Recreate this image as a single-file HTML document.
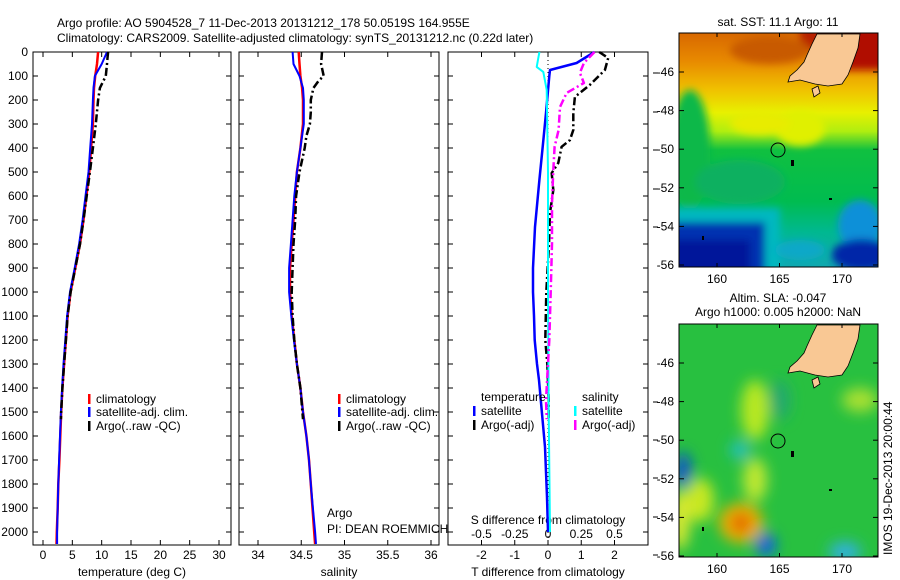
<!DOCTYPE html>
<html><head><meta charset="utf-8"><style>
html,body{margin:0;padding:0;background:#fff;}
svg{display:block;font-family:"Liberation Sans",sans-serif;font-size:12px;}
</style></head><body>
<svg id="fig" width="900" height="580" viewBox="0 0 900 580">
<defs>
<filter id="blur4" x="-20%" y="-20%" width="140%" height="140%"><feGaussianBlur stdDeviation="4"/></filter>
<filter id="blur7" x="-30%" y="-30%" width="160%" height="160%"><feGaussianBlur stdDeviation="7"/></filter>
<clipPath id="m1clip"><rect x="679" y="33" width="199" height="234"/></clipPath>
<clipPath id="m2clip"><rect x="679" y="324" width="199" height="233"/></clipPath>
<linearGradient id="sstGrad" x1="0" y1="0" x2="0" y2="1">
<stop offset="0" stop-color="#d86800"/><stop offset="0.12" stop-color="#e88a00"/><stop offset="0.24" stop-color="#f0c000"/>
<stop offset="0.34" stop-color="#e8f000"/><stop offset="0.42" stop-color="#b0ee10"/><stop offset="0.50" stop-color="#10c040"/>
<stop offset="0.72" stop-color="#00bc50"/><stop offset="0.85" stop-color="#00b890"/><stop offset="1" stop-color="#10a8b0"/>
</linearGradient>
</defs>
<text x="57" y="27">Argo profile: AO 5904528_7 11-Dec-2013 20131212_178 50.0519S 164.955E</text>
<text x="57" y="42">Climatology: CARS2009. Satellite-adjusted climatology: synTS_20131212.nc (0.22d later)</text>
<g id="p1"></g>
<g id="p2"></g>
<g id="p3"></g>
<g id="m1">
<text x="778" y="26" text-anchor="middle">sat. SST: 11.1 Argo: 11</text>
<g clip-path="url(#m1clip)">
<rect x="679" y="33" width="199" height="234" fill="url(#sstGrad)"/>
<g filter="url(#blur4)">
<rect x="840" y="25" width="50" height="45" fill="#b01000"/>
<rect x="800" y="25" width="30" height="25" fill="#b82000"/>
<ellipse cx="770" cy="50" rx="40" ry="14" fill="#c85a00"/>
<ellipse cx="690" cy="150" rx="20" ry="60" fill="#10b848"/>
<ellipse cx="740" cy="182" rx="45" ry="22" fill="#10b060"/>
<ellipse cx="800" cy="128" rx="25" ry="18" fill="#e0f000"/>
<ellipse cx="760" cy="123" rx="30" ry="12" fill="#e8ec00"/>
<rect x="670" y="208" width="110" height="70" fill="#00b8c0"/>
<rect x="670" y="222" width="95" height="60" fill="#0030b0"/>
<rect x="670" y="240" width="80" height="40" fill="#00189a"/>
<ellipse cx="860" cy="225" rx="22" ry="25" fill="#1090d8"/>
<ellipse cx="862" cy="255" rx="30" ry="16" fill="#0028a8"/>
<ellipse cx="800" cy="250" rx="25" ry="10" fill="#10a8c8"/>
</g>
<polygon points="817,34 860,34 858,48 853,62 848,75 842,84 828,86 815,84 800,80 788,82 790,76 797,70 804,62 807,55 812,44" fill="#f9c894" stroke="#000" stroke-width="0.8"/>
<polygon points="812,89 818,86 820,93 814,97" fill="#f9c894" stroke="#000" stroke-width="0.8"/>
<circle cx="778" cy="150" r="7" fill="none" stroke="#000" stroke-width="1"/>
<rect x="791" y="160" width="3" height="6" fill="#000"/><rect x="829" y="198" width="3" height="2" fill="#000"/><rect x="702" y="236" width="2" height="4" fill="#000"/>
</g>
<rect x="679" y="33" width="199" height="234" fill="none" stroke="#000" stroke-width="1"/>
</g>
<g id="m2">
<text x="778" y="302" text-anchor="middle">Altim. SLA: -0.047</text>
<text x="778" y="316" text-anchor="middle">Argo h1000: 0.005 h2000: NaN</text>
<g clip-path="url(#m2clip)">
<rect x="679" y="324" width="199" height="233" fill="#28c040"/>
<g filter="url(#blur7)">
<ellipse cx="755" cy="410" rx="14" ry="30" fill="#b8e820"/>
<ellipse cx="700" cy="500" rx="14" ry="22" fill="#c8e820"/>
<ellipse cx="755" cy="480" rx="12" ry="22" fill="#c0e830"/>
<ellipse cx="860" cy="400" rx="18" ry="12" fill="#a8e030"/>
<ellipse cx="780" cy="400" rx="10" ry="20" fill="#20a870"/>
<ellipse cx="740" cy="450" rx="10" ry="9" fill="#20c0c0"/>
<ellipse cx="683" cy="470" rx="8" ry="18" fill="#1050d0"/>
<ellipse cx="741" cy="523" rx="22" ry="20" fill="#f0b000"/>
<ellipse cx="741" cy="523" rx="10" ry="10" fill="#e06000"/>
<ellipse cx="766" cy="545" rx="10" ry="12" fill="#1060e0"/>
<ellipse cx="845" cy="552" rx="16" ry="10" fill="#30b0e0"/>
<ellipse cx="680" cy="520" rx="10" ry="30" fill="#d8e830"/>
</g>
<polygon points="817,325 860,325 858,339 853,353 848,366 842,375 828,377 815,375 800,371 788,373 790,367 797,361 804,353 807,346 812,335" fill="#f9c894" stroke="#000" stroke-width="0.8"/>
<polygon points="812,380 818,377 820,384 814,388" fill="#f9c894" stroke="#000" stroke-width="0.8"/>
<circle cx="778" cy="441" r="7" fill="none" stroke="#000" stroke-width="1"/>
<rect x="791" y="451" width="3" height="6" fill="#000"/><rect x="829" y="489" width="3" height="2" fill="#000"/><rect x="702" y="527" width="2" height="4" fill="#000"/>
</g>
<rect x="679" y="324" width="199" height="233" fill="none" stroke="#000" stroke-width="1"/>
<text transform="translate(892,555) rotate(-90)">IMOS 19-Dec-2013 20:00:44</text>
</g>
</svg>
<script>
// ---- data ----
const depths = [0,50,100,150,200,300,400,500,600,700,800,900,1000,1100,1200,1300,1400,1500,1600,1700,1800,1900,2000,2050];
const climT = [9.4,9.2,8.9,8.7,8.6,8.5,8.2,7.9,7.4,6.9,6.3,5.5,4.7,4.2,3.9,3.6,3.3,3.1,2.95,2.8,2.6,2.5,2.35,2.3];
const satT = [10.9,10.0,8.85,8.6,8.5,8.35,8.05,7.75,7.25,6.75,6.15,5.4,4.6,4.1,3.8,3.5,3.25,3.05,2.9,2.75,2.6,2.5,2.4,2.4];
const argoTDepths = [0,25,50,100,150,200,300,400,500,600,700,800,900,1000,1100,1200,1300,1400,1500,1530];
const argoT = [11.1,11.0,10.9,10.7,9.7,9.4,9.0,8.5,8.0,7.45,6.9,6.3,5.5,4.7,4.2,3.9,3.6,3.3,3.1,3.05];
const climS = [34.47,34.48,34.49,34.51,34.52,34.52,34.49,34.45,34.43,34.41,34.39,34.37,34.37,34.39,34.42,34.45,34.49,34.52,34.56,34.59,34.61,34.63,34.65,34.66];
const satS = [34.40,34.41,34.48,34.52,34.53,34.53,34.49,34.45,34.42,34.40,34.38,34.36,34.36,34.385,34.415,34.45,34.49,34.52,34.56,34.59,34.61,34.635,34.66,34.67];
const argoSDepths = [0,50,100,120,150,200,250,300,350,400,500,600,700,800,900,1000,1100,1200,1300,1400,1530];
const argoS = [34.74,34.73,34.76,34.70,34.64,34.61,34.61,34.60,34.56,34.54,34.48,34.44,34.43,34.41,34.40,34.39,34.40,34.42,34.45,34.49,34.52];
const satDTDepths = [0,46,75,100,254,395,533,729,900,1000,1100,1200,1300,1367,1646,1854,2000];
const satDT = [1.4,0.86,0.06,0.04,-0.06,-0.16,-0.26,-0.39,-0.45,-0.45,-0.42,-0.40,-0.33,-0.27,-0.09,-0.03,0];
const argoDTDepths = [0,25,75,137,187,254,325,367,395,462,504,575,670,800,1000,1200,1300,1450,1530];
const argoDT = [1.54,1.81,1.71,1.26,0.81,0.76,0.76,0.66,0.41,0.31,0.11,0.16,0.06,0.03,-0.05,-0.08,-0.02,0.02,0.02];
const satDSDepths = [0,62,83,158,500,1000,1500,2000];
const satDS = [-0.065,-0.085,-0.035,-0.01,0,0,0.005,0.015];
const argoDSDepths = [0,46,87,129,171,229,325,395,492,629,800,1000,1200,1450,1530];
const argoDS = [0.35,0.27,0.24,0.27,0.14,0.09,0.08,0.05,0.04,0.03,0.03,0.02,0.01,-0.015,-0.01];
const depthTicks = [0,100,200,300,400,500,600,700,800,900,1000,1100,1200,1300,1400,1500,1600,1700,1800,1900,2000];
const tempTicks = [0,5,10,15,20,25,30];
const salTicks = [34,34.5,35,35.5,36];
const salTickLabels = ['34','34.5','35','35.5','36'];
const dTTicks = [-2,-1,0,1,2];
const dSTicks = [-0.5,-0.25,0,0.25,0.5];
const dSTickLabels = ['-0.5','-0.25','0','0.25','0.5'];
const latTicks = [-46,-48,-50,-52,-54,-56];
const lonTicks = [160,165,170];

// ---- scales ----
const TOP=52, BOT=545;
const yD = d => TOP + d*0.24;
const xT = t => 43 + t*5.867;
const xS = s => 258 + (s-34)*86.5;
const xDT = v => 548 + v*33.25;
const xDS = v => 548 + v*133;
const NS='http://www.w3.org/2000/svg';
function mk(tag, attrs, parent){const e=document.createElementNS(NS,tag);for(const k in attrs)e.setAttribute(k,attrs[k]);parent.appendChild(e);return e;}
function txt(parent,x,y,s,anchor){const t=mk('text',{x:x,y:y,'text-anchor':anchor||'start'},parent);t.textContent=s;return t;}

function frame(g,L,R,name){
  const r=mk('rect',{x:L,y:TOP,width:R-L,height:BOT-TOP,fill:'#fff',stroke:'#000','stroke-width':1},g);
  
  
  depthTicks.forEach(d=>{
    mk('line',{x1:L,x2:L+5,y1:yD(d),y2:yD(d),stroke:'#000'},g);
    mk('line',{x1:R,x2:R-5,y1:yD(d),y2:yD(d),stroke:'#000'},g);
  });
}
function xticks(g,vals,fx,labels,ly){
  vals.forEach((v,i)=>{
    const x=fx(v);
    mk('line',{x1:x,x2:x,y1:TOP,y2:TOP+5,stroke:'#000'},g);
    mk('line',{x1:x,x2:x,y1:BOT,y2:BOT-5,stroke:'#000'},g);
    const t=txt(g,x,ly,labels?labels[i]:String(v),'middle');
    
    
  });
}
function line(g,xs,ds,fx,color,w,dash,name){
  const pts=xs.map((v,i)=>fx(v).toFixed(1)+','+yD(ds[i]).toFixed(1)).join(' ');
  const p=mk('polyline',{points:pts,fill:'none',stroke:color,'stroke-width':w,'stroke-linejoin':'round'},g);
  if(dash)p.setAttribute('stroke-dasharray',dash);
  
  
}
function legend(g,x,y,color,label,name){
  mk('rect',{x:x,y:y-9,width:2.5,height:10,fill:color},g);
  const t=txt(g,x+8,y,label);
  
  
}
const DASH='8,3,2,3';

// panel 1
const p1=document.getElementById('p1');
frame(p1,33,231,'temperature-panel');
depthTicks.forEach(d=>{const t=txt(p1,28,yD(d)+4,String(d),'end');
  
  });
xticks(p1,tempTicks,xT,null,559);
let t1=txt(p1,132,576,'temperature (deg C)','middle');


line(p1,climT,depths,xT,'#ff0000',2.5,null,'temp-climatology-line');
line(p1,satT,depths,xT,'#0000ff',2,null,'temp-satellite-line');
line(p1,argoT,argoTDepths,xT,'#000',2.5,DASH,'temp-argo-line');
legend(p1,88,403,'#ff0000','climatology','legend-climatology');
legend(p1,88,416,'#0000ff','satellite-adj. clim.','legend-satellite');
legend(p1,88,430,'#000','Argo(..raw -QC)','legend-argo');

// panel 2
const p2=document.getElementById('p2');
frame(p2,239,439,'salinity-panel');
xticks(p2,salTicks,xS,salTickLabels,559);
let t2=txt(p2,339,576,'salinity','middle');


line(p2,climS,depths,xS,'#ff0000',2.5,null,'sal-climatology-line');
line(p2,satS,depths,xS,'#0000ff',2,null,'sal-satellite-line');
line(p2,argoS,argoSDepths,xS,'#000',2.5,DASH,'sal-argo-line');
legend(p2,338,403,'#ff0000','climatology','legend-climatology-2');
legend(p2,338,416,'#0000ff','satellite-adj. clim.','legend-satellite-2');
legend(p2,338,430,'#000','Argo(..raw -QC)','legend-argo-2');
let a1=txt(p2,327,517,'Argo');


let a2=txt(p2,327,533,'PI: DEAN ROEMMICH');



// panel 3
const p3=document.getElementById('p3');
frame(p3,448,648,'difference-panel');
xticks(p3,dTTicks,xDT,null,559);
dSTicks.forEach((v,i)=>{const t=txt(p3,xDS(v),538,dSTickLabels[i],'middle');
  
  });
let s3=txt(p3,548,524,'S difference from climatology','middle');


let t3=txt(p3,548,576,'T difference from climatology','middle');


mk('line',{x1:548,x2:548,y1:TOP,y2:BOT,stroke:'#000','stroke-dasharray':'1,3'},p3);
[73,112,150,189,227,402,440,478,517,555].forEach(y=>mk('line',{x1:653,x2:658,y1:y,y2:y,stroke:'#000'},p3));
line(p3,satDT,satDTDepths,xDT,'#0000ff',2.5,null,'dT-satellite-line');
line(p3,argoDT,argoDTDepths,xDT,'#000',2.5,DASH,'dT-argo-line');
line(p3,satDS,satDSDepths,xDS,'#00ffff',2,null,'dS-satellite-line');
line(p3,argoDS,argoDSDepths,xDS,'#ff00ff',2.5,DASH,'dS-argo-line');
let h1=txt(p3,481,401,'temperature');


let h2=txt(p3,582,401,'salinity');


legend(p3,473,415,'#0000ff','satellite','legend-dT-satellite');
legend(p3,473,429,'#000','Argo(-adj)','legend-dT-argo');
legend(p3,574,415,'#00ffff','satellite','legend-dS-satellite');
legend(p3,574,429,'#ff00ff','Argo(-adj)','legend-dS-argo');

// map axes
function mapAxes(gid,top,bottom,yOff){
  const g=document.getElementById(gid);
  latTicks.forEach(lat=>{
    const y=72+(-46-lat)*19.3+yOff;
    mk('line',{x1:679,x2:684,y1:y,y2:y,stroke:'#000'},g);
    mk('line',{x1:878,x2:873,y1:y,y2:y,stroke:'#000'},g);
    const t=txt(g,674,y+4,String(lat),'end');
    
    
  });
  lonTicks.forEach(lon=>{
    const x=717+(lon-160)*12.5;
    mk('line',{x1:x,x2:x,y1:top,y2:top+4,stroke:'#000'},g);
    mk('line',{x1:x,x2:x,y1:bottom,y2:bottom-4,stroke:'#000'},g);
    const t=txt(g,x,bottom+16,String(lon),'middle');
    
    
  });
}
mapAxes('m1',33,267,0);
mapAxes('m2',324,557,291);
</script>
</body></html>
